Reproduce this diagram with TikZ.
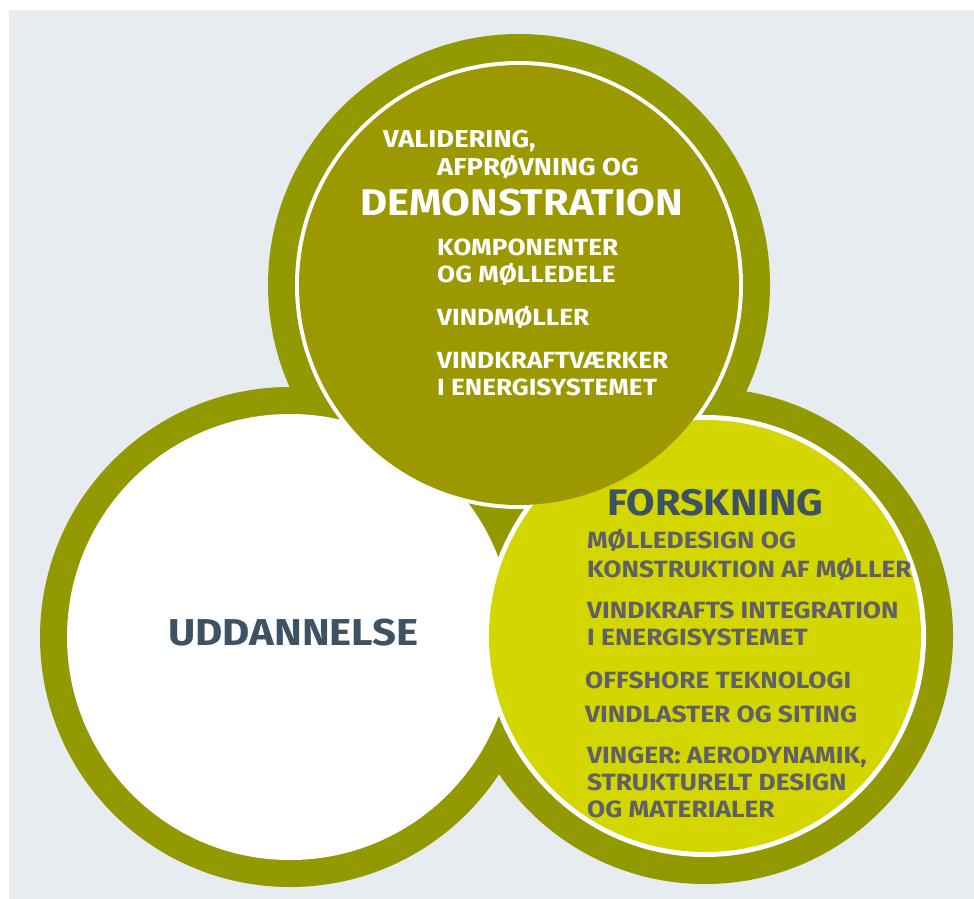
\documentclass[tikz,border=0pt]{standalone}
\usepackage{fontspec}
\setmainfont{Fira Sans}[FakeStretch=1.12]
\definecolor{bgcol}{HTML}{E6ECF0}
\definecolor{ringcol}{HTML}{939900}
\definecolor{topfill}{HTML}{9C9800}
\definecolor{yfill}{HTML}{D4D600}
\definecolor{navy}{HTML}{3D5263}
\definecolor{greytxt}{HTML}{5F6068}
\newcommand\fsz[1]{\fontsize{#1}{#1}\selectfont\bfseries}
\tikzset{
  wt/.style={anchor=base west, inner sep=0pt, text=white},
  gt/.style={anchor=base west, inner sep=0pt, text=greytxt, font=\fsz{23.5}},
  topitem/.style={wt, font=\fsz{23.4}},
  title/.style={anchor=base west, inner sep=0pt, text=navy, font=\fsz{37.4}},
}
\begin{document}
\begin{tikzpicture}[x=1pt,y=-1pt]
\useasboundingbox (0,0) rectangle (974,899);
\fill[white] (0,0) rectangle (974,899);
\fill[bgcol] (9,10) rectangle (974,899);
\coordinate (cl) at (290,637);
\coordinate (ct) at (519,285);
\coordinate (cr) at (705,636);
% outer rings
\fill[ringcol] (cl) circle[radius=250pt];
\fill[ringcol] (ct) circle[radius=251pt];
\fill[ringcol] (cr) circle[radius=248pt];
% inner discs
\fill[white] (cl) circle[radius=223pt];
\fill[white] (ct) circle[radius=224pt];
\fill[white] (cr) circle[radius=221pt];
\fill[yfill] (cr) circle[radius=216pt];
\fill[topfill] (ct) circle[radius=220pt];
% top circle text
\node[wt, font=\fsz{24.4}] (t1) at (383,147) {VALIDERING,};
\node[wt, font=\fsz{24.4}] (t2) at (437,175) {AFPRØVNING OG};
\node[wt, font=\fsz{37.2}] (t3) at (360,215) {DEMONSTRATION};
\node[topitem] (t4) at (437,255) {KOMPONENTER};
\node[topitem] (t5) at (437,282) {OG MØLLEDELE};
\node[topitem] (t6) at (437,325) {VINDMØLLER};
\node[topitem] (t7) at (437,368) {VINDKRAFTVÆRKER};
\node[topitem] (t8) at (437,395) {I ENERGISYSTEMET};
% right circle text
\node[title, font=\fsz{36.9}] (f0) at (607,515) {FORSKNING};
\node[gt] (f1) at (587,548) {MØLLEDESIGN OG};
\node[gt] (f2) at (587,577) {KONSTRUKTION AF MØLLER};
\node[gt] (f3) at (587,618) {VINDKRAFTS INTEGRATION};
\node[gt] (f4) at (587,645) {I ENERGISYSTEMET};
\node[gt] (f5) at (585,688) {OFFSHORE TEKNOLOGI};
\node[gt] (f6) at (585,722) {VINDLASTER OG SITING};
\node[gt] (f7) at (587,763) {VINGER: AERODYNAMIK,};
\node[gt] (f8) at (587,790) {STRUKTURELT DESIGN};
\node[gt] (f9) at (587,817) {OG MATERIALER};
% left circle text
\node[title] (u0) at (168,645) {UDDANNELSE};
\end{tikzpicture}
\end{document}
